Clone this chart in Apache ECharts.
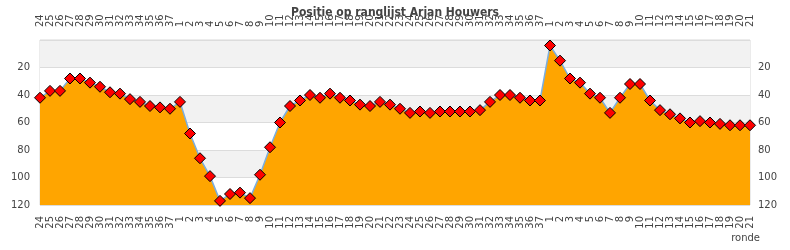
<!DOCTYPE html>
<html><head><meta charset="utf-8">
<script src="https://cdn.jsdelivr.net/npm/echarts@6/dist/echarts.min.js"></script>
<style>html,body{margin:0;padding:0;background:#fff}#c{width:790px;height:250px}</style>
</head><body><div id="c"></div>
<script>
var categories = ['24','25','26','27','28','29','30','31','32','33','34','35','36','37',
 '1','2','3','4','5','6','7','8','9','10','11','12','13','14','15','16','17','18','19','20','21','22','23','24','25','26','27','28','29','30','31','32','33','34','35','36','37',
 '1','2','3','4','5','6','7','8','9','10','11','12','13','14','15','16','17','18','19','20','21'];
var positions = [42,37,37,28,28,31,34,38,39,43,45,48,49,50,
 45,68,86,99,117,112,111,115,98,78,60,48,44,40,42,39,42,44,47,48,45,47,50,53,52,53,52,52,52,52,51,45,40,40,42,44,44,
 4,15,28,31,39,42,53,42,32,32,44,51,54,57,60,59,60,61,62,62,62];
var yTicks = [0,20,40,60,80,100,120];
var titleText = 'Positie op ranglijst Arjan Houwers';
var xAxisName = 'ronde';

var chart = echarts.init(document.getElementById('c'), null, {renderer:'canvas'});
var labelFont = {fontFamily:'DejaVu Sans', fontSize:10, color:'#444'};
var yLabel = {fontFamily:'DejaVu Sans', fontSize:10, color:'#444', showMinLabel:false};
chart.setOption({
  animation:false,
  backgroundColor:'#fff',
  title:{text:titleText, left:'center', top:2,
    textStyle:{fontFamily:'DejaVu Sans Condensed', fontWeight:'bold', fontSize:12, color:'#444'}},
  graphic:[{type:'text', right:30, top:233, style:{text:xAxisName, fontFamily:'DejaVu Sans', fontSize:10, fill:'#444'}}],
  grid:{left:40, right:40, top:40, bottom:45, show:true, borderColor:'#d8d8d8', borderWidth:1},
  xAxis:[
    {type:'category', position:'bottom', data:categories, boundaryGap:false,
     axisLine:{show:false}, axisTick:{show:false},
     axisLabel:Object.assign({interval:0, rotate:90, margin:11}, labelFont)},
    {type:'category', position:'top', data:categories, boundaryGap:false,
     axisLine:{show:false}, axisTick:{show:false},
     axisLabel:Object.assign({interval:0, rotate:90, margin:13}, labelFont)}
  ],
  yAxis:[
    {type:'value', inverse:true, min:yTicks[0], max:yTicks[yTicks.length-1], interval:20, position:'left',
     axisLine:{show:false}, axisTick:{show:false}, axisLabel:Object.assign({margin:10}, yLabel),
     splitLine:{show:true, lineStyle:{color:'#dcdcdc'}},
     splitArea:{show:true, areaStyle:{color:['#f2f2f2','#ffffff']}}},
    {type:'value', inverse:true, min:yTicks[0], max:yTicks[yTicks.length-1], interval:20, position:'right',
     axisLine:{show:false}, axisTick:{show:false}, axisLabel:Object.assign({margin:8}, yLabel),
     splitLine:{show:false}, splitArea:{show:false}}
  ],
  series:[{
    type:'line', data:positions, xAxisIndex:0, yAxisIndex:0,
    symbol:'path://M0,-1L1,0L0,1L-1,0Z', symbolSize:11, showAllSymbol:true,
    lineStyle:{color:'#7aaee0', width:1.5},
    itemStyle:{color:'#ff0000', borderColor:'#000', borderWidth:1},
    areaStyle:{color:'#ffa500', opacity:1, origin:'end'}
  }]
});
</script></body></html>
